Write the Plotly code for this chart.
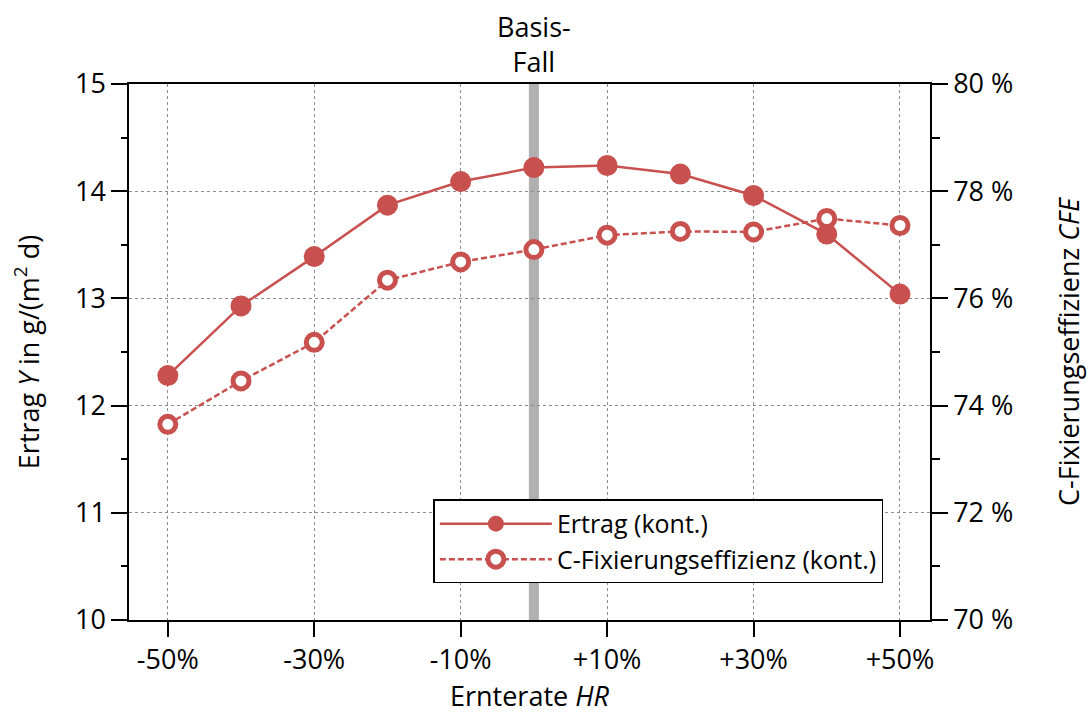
import plotly.graph_objects as go

# Harvest-rate variation (%) relative to the base case
harvest_rate = [-50, -40, -30, -20, -10, 0, 10, 20, 30, 40, 50]
# Yield Y in g/(m² d)
ertrag = [12.28, 12.93, 13.39, 13.87, 14.09, 14.22, 14.24, 14.16, 13.96, 13.60, 13.04]
# Carbon fixation efficiency CFE in %
cfe = [73.65, 74.46, 75.18, 76.34, 76.68, 76.91, 77.18, 77.25, 77.24, 77.49, 77.36]

x_tickvals = [-50, -30, -10, 10, 30, 50]
x_ticktext = ["-50%", "-30%", "-10%", "+10%", "+30%", "+50%"]

RED = "#c8504f"
FONT = "Open Sans, Noto Sans, sans-serif"

fig = go.Figure()

fig.add_trace(go.Scatter(
    x=harvest_rate, y=ertrag, name="Ertrag (kont.)",
    mode="lines+markers",
    line=dict(color=RED, width=2.5),
    marker=dict(color=RED, size=21, line=dict(width=0)),
    yaxis="y",
))
fig.add_trace(go.Scatter(
    x=harvest_rate, y=cfe, name="C-Fixierungseffizienz (kont.)",
    mode="lines+markers",
    line=dict(color=RED, width=2.5, dash="6px,3px"),
    marker=dict(color="white", size=16, line=dict(color=RED, width=5)),
    yaxis="y2",
))

# Base case marker
fig.add_shape(type="line", xref="x", yref="paper", x0=0, x1=0, y0=0, y1=1,
              line=dict(color="#b0b0b0", width=10), layer="below")
fig.add_annotation(x=0, xref="x", y=1, yref="paper", yanchor="bottom",
                   text="Basis-<br>Fall", showarrow=False, yshift=2,
                   font=dict(size=27, color="black", family=FONT))

fig.update_layout(
    width=1092, height=718,
    margin=dict(l=129, r=160, t=84, b=96),
    paper_bgcolor="white", plot_bgcolor="white",
    font=dict(family=FONT, size=27, color="black"),
    showlegend=True,
    legend=dict(
        x=0.38, y=0.225, xanchor="left", yanchor="top",
        bgcolor="white", bordercolor="black", borderwidth=1.5,
        font=dict(size=25, family=FONT), itemwidth=112,
        tracegroupgap=0,
    ),
    xaxis=dict(
        range=[-55.3, 54.1],
        tickvals=x_tickvals, ticktext=x_ticktext,
        ticks="outside", ticklen=15, tickwidth=1.5, tickcolor="black",
        showline=True, linecolor="black", linewidth=1.5, mirror=True,
        showgrid=True, gridcolor="#8c8c8c", gridwidth=1, griddash="dot",
        zeroline=False,
        title=dict(text="Ernterate <i>HR</i>", standoff=10, font=dict(size=27)),
    ),
    yaxis=dict(
        range=[10, 15], dtick=1,
        ticks="outside", ticklen=16, tickwidth=1.5, tickcolor="black",
        minor=dict(ticks="outside", ticklen=6, dtick=0.5, tickcolor="black", tickwidth=1.5, showgrid=False),
        showline=True, linecolor="black", linewidth=1.5,
        showgrid=True, gridcolor="#8c8c8c", gridwidth=1, griddash="dot",
        zeroline=False,
        title=dict(text="Ertrag <i>Y</i> in g/(m<sup>2</sup> d)", standoff=28, font=dict(size=27)),
    ),
    yaxis2=dict(
        range=[70, 80], dtick=2, overlaying="y", side="right",
        ticksuffix=" %",
        ticks="outside", ticklen=16, tickwidth=1.5, tickcolor="black",
        minor=dict(ticks="outside", ticklen=8, dtick=1, tickcolor="black", tickwidth=1.5, showgrid=False),
        showline=True, linecolor="black", linewidth=1.5,
        showgrid=False, zeroline=False,
        title=dict(text="C-Fixierungseffizienz <i>CFE</i>", standoff=48, font=dict(size=27)),
    ),
)

fig.write_html("out.html")
